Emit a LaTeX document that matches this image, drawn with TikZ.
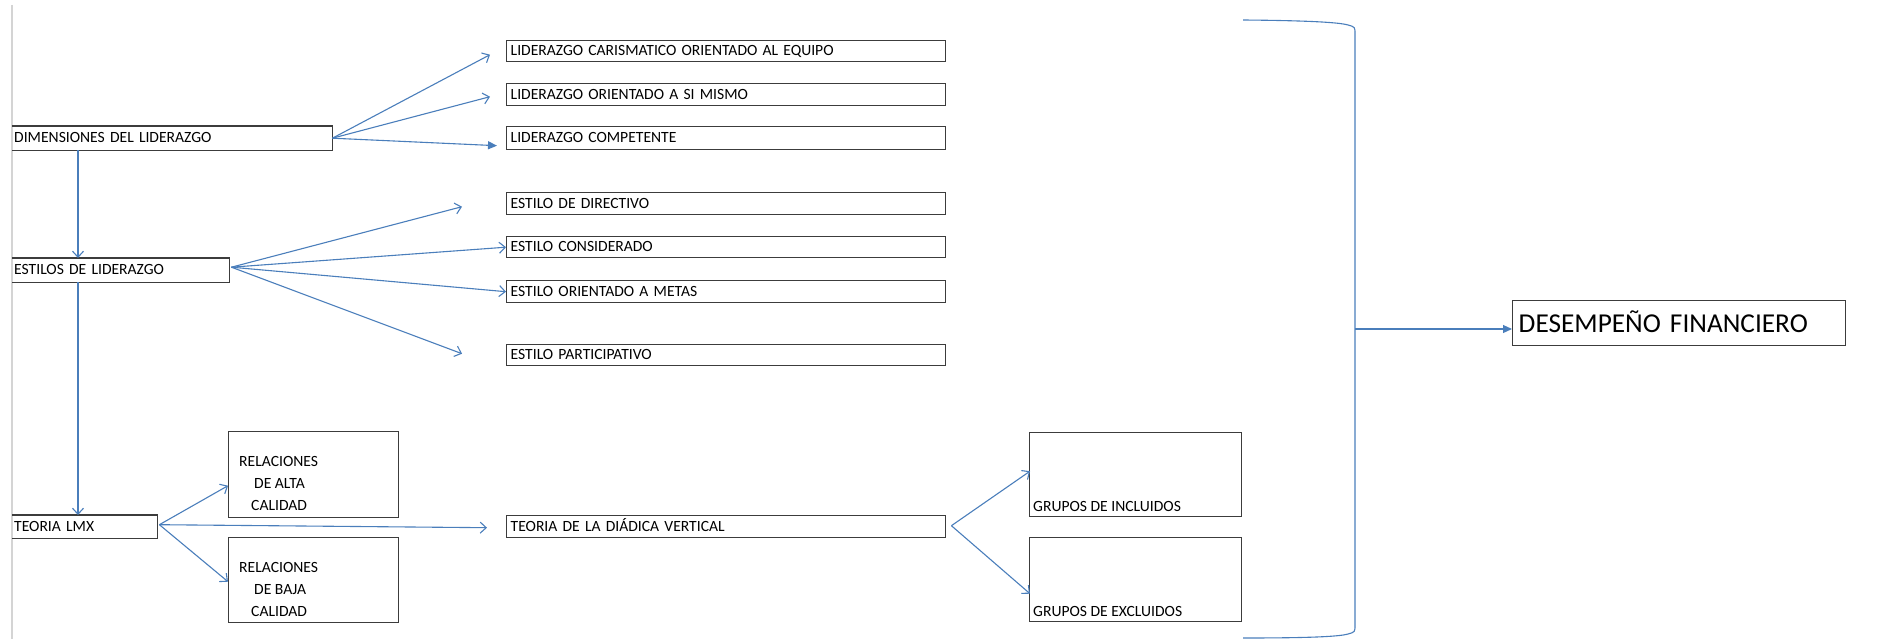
\documentclass[tikz,border=0pt]{standalone}
\usepackage{fontspec}
\setmainfont{Carlito}
\usetikzlibrary{arrows.meta,calc}
\definecolor{arrowblue}{HTML}{4A7EBB}
\definecolor{boxline}{HTML}{3C3C3C}
\definecolor{marginline}{HTML}{D4D4D4}
\newcommand\lbl{\fontsize{15.6}{21.6}\selectfont}
\newcommand\biglbl{\fontsize{27.3}{30}\selectfont}

\begin{document}
\begin{tikzpicture}[x=1pt,y=-1pt,
  box/.style={draw=boxline, line width=1.4pt, anchor=north west,
    inner xsep=4pt, inner ysep=0pt, align=left, font=\lbl,
    text height=10pt, text depth=1pt, text width=431pt},
  lbox/.style={box, draw=none, inner xsep=1.5pt},
  edge/.style={draw=boxline, line width=1.4pt},
  bigbox/.style={draw=boxline, line width=1.4pt, anchor=north west,
    inner sep=0pt, minimum width=#1},
  bigbox/.default=170pt,
  boxtext/.style={anchor=base west, align=left, font=\lbl, inner sep=0pt},
  conn/.style={draw=arrowblue, line width=1.1pt},
  opentip/.style={conn, -{Straight Barb[length=6pt,width=11pt,line width=1.1pt]}},
  filledtip/.style={conn, -{Triangle[length=9pt,width=8pt]}}
]
\useasboundingbox (0,0) rectangle (1885,639);

% page margin line
\draw[marginline, line width=1.2pt] (12,5) -- (12,639);

% left column (boxes cut by the margin)
\node[lbox, text width=316pt, minimum height=23pt] (dim) at (12,126) {DIMENSIONES DEL LIDERAZGO};
\node[lbox, text width=213pt, minimum height=23pt] (est) at (12,258) {ESTILOS DE LIDERAZGO};
\node[lbox, text width=141pt, minimum height=22pt] (lmx) at (12,515) {TEORIA LMX};
\foreach \n in {dim,est,lmx}
  \draw[edge] (\n.north west) -| (\n.south east) -- (\n.south west);

% leadership dimensions
\node[box, minimum height=21pt] (lce) at (506,40)  {LIDERAZGO CARISMATICO ORIENTADO AL EQUIPO};
\node[box, minimum height=22pt] (los) at (506,83)  {LIDERAZGO ORIENTADO A SI MISMO};
\node[box, minimum height=23pt] (lco) at (506,126) {LIDERAZGO COMPETENTE};

% leadership styles
\node[box, minimum height=22pt] (edi) at (506,192) {ESTILO DE DIRECTIVO};
\node[box, minimum height=21pt] (eco) at (506,236) {ESTILO CONSIDERADO};
\node[box, minimum height=22pt] (eom) at (506,280) {ESTILO ORIENTADO A METAS};
\node[box, minimum height=21pt] (epa) at (506,344) {ESTILO PARTICIPATIVO};

% LMX branch (multi-line labels are anchored on their last baseline)
\node[bigbox, minimum height=86pt] (alta) at (228,431) {};
\node[boxtext] at (239,510) {RELACIONES\\\hspace*{15pt}DE ALTA\\\hspace*{12pt}CALIDAD};
\node[bigbox, minimum height=85pt] (baja) at (228,537) {};
\node[boxtext] at (239,616) {RELACIONES\\\hspace*{15pt}DE BAJA\\\hspace*{12pt}CALIDAD};
\node[box, minimum height=22pt] (tdv) at (506,515) {TEORIA DE LA DIÁDICA VERTICAL};
\node[bigbox=212pt, minimum height=84pt] (inc) at (1029,432) {};
\node[boxtext] at (1033,511) {GRUPOS DE INCLUIDOS};
\node[bigbox=212pt, minimum height=84pt] (exc) at (1029,537) {};
\node[boxtext] at (1033,616) {GRUPOS DE EXCLUIDOS};

% outcome
\node[box, font=\biglbl, inner xsep=6pt, text width=321pt, minimum height=45pt,
      text height=19pt, text depth=1pt] (des) at (1512,300) {DESEMPEÑO FINANCIERO};

% connectors: dimensions
\draw[opentip] (dim.east) -- ($(lce.west)+(-16,3.5)$);
\draw[opentip] (dim.east) -- ($(los.west)+(-16,2)$);
\draw[filledtip] (dim.east) -- ($(lco.west)+(-9,7.5)$);
\draw[opentip] ($(dim.south west)+(66,0)$) -- ($(est.north west)+(66,0)$);

% connectors: styles
\draw[opentip] ($(est.east)+(2,-3)$) -- ($(edi.west)+(-44,3)$);
\draw[opentip] ($(est.east)+(2,-3)$) -- (eco.west);
\draw[opentip] ($(est.east)+(2,-3)$) -- (eom.west);
\draw[opentip] ($(est.east)+(2,-3)$) -- ($(epa.west)+(-44,-1.5)$);
\draw[opentip] ($(est.south west)+(66,0)$) -- ($(lmx.north west)+(66,0)$);

% connectors: LMX
\draw[opentip] ($(lmx.east)+(2,-2)$) -- ($(alta.west)+(0,11)$);
\draw[opentip] ($(lmx.east)+(2,-2)$) -- ($(baja.west)+(0,1.5)$);
\draw[opentip] ($(lmx.east)+(2,-2)$) -- ($(tdv.west)+(-19,1)$);
\draw[opentip] ($(tdv.east)+(5,-1)$) -- ($(inc.west)+(1,-3.5)$);
\draw[opentip] ($(tdv.east)+(5,-1)$) -- ($(exc.west)+(1,14)$);

% closing bracket gathering everything into the outcome
\coordinate (bt) at (1243,20);
\coordinate (bb) at (1243,638);
\coordinate (bm) at (1355,329);
\draw[conn] (bt) .. controls (1300,20.5) and (1338,22) .. (1348,25)
  .. controls (1355,27) .. (1355,34) -- (1355,625)
  .. controls (1355,632) .. (1348,634)
  .. controls (1338,637) and (1300,638) .. (bb);
\draw[filledtip] (bm) -- (bm -| des.west);
\end{tikzpicture}
\end{document}
